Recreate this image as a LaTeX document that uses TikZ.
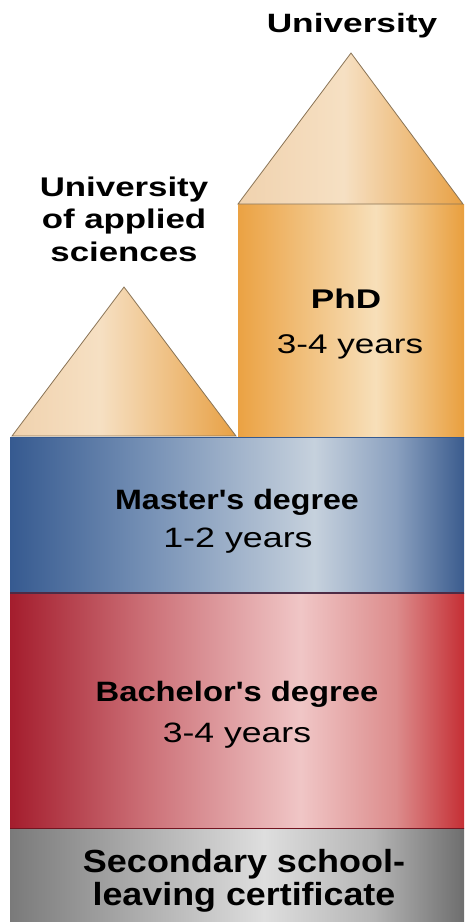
\documentclass[tikz,border=0pt]{standalone}
\usepackage{fontspec}
\setmainfont{Liberation Sans}[Ligatures=TeXOff]
\definecolor{bl1}{HTML}{365A90}
\definecolor{bl2}{HTML}{7590B5}
\definecolor{bl3}{HTML}{C6D1DD}
\definecolor{bl4}{HTML}{8AA0BF}
\definecolor{bl5}{HTML}{3B5C8E}
\definecolor{rd1}{HTML}{A41D2D}
\definecolor{rd2}{HTML}{CC7077}
\definecolor{rd3}{HTML}{F0C6C6}
\definecolor{rd4}{HTML}{DC8C8C}
\definecolor{rd5}{HTML}{C52F35}
\definecolor{gr1}{HTML}{7A7A7A}
\definecolor{gr2}{HTML}{B0B0B0}
\definecolor{gr3}{HTML}{DEDEDE}
\definecolor{gr4}{HTML}{B5B5B5}
\definecolor{gr5}{HTML}{6E6E6E}
\definecolor{or1}{HTML}{EBA243}
\definecolor{or2}{HTML}{F7DFB9}
\definecolor{or3}{HTML}{E99F3E}
\definecolor{tl1}{HTML}{F0D2AE}
\definecolor{tl2}{HTML}{F6E0C3}
\definecolor{tl3}{HTML}{E8A145}
\definecolor{triline}{HTML}{8A7456}
\pgfdeclarehorizontalshading{blueband}{100bp}{color(0bp)=(bl1); color(25bp)=(bl1); color(40bp)=(bl2); color(58.5bp)=(bl3); color(67.5bp)=(bl4); color(75bp)=(bl5); color(100bp)=(bl5)}
\pgfdeclarehorizontalshading{redband}{100bp}{color(0bp)=(rd1); color(25bp)=(rd1); color(40bp)=(rd2); color(57bp)=(rd3); color(67.5bp)=(rd4); color(75bp)=(rd5); color(100bp)=(rd5)}
\pgfdeclarehorizontalshading{grayband}{100bp}{color(0bp)=(gr1); color(25bp)=(gr1); color(40bp)=(gr2); color(53bp)=(gr3); color(65bp)=(gr4); color(75bp)=(gr5); color(100bp)=(gr5)}
\pgfdeclarehorizontalshading{phdbox}{100bp}{color(0bp)=(or1); color(25bp)=(or1); color(55.5bp)=(or2); color(75bp)=(or3); color(100bp)=(or3)}
\pgfdeclarehorizontalshading{bigtri}{100bp}{color(0bp)=(tl1); color(25bp)=(tl1); color(48.5bp)=(tl2); color(75bp)=(tl3); color(100bp)=(tl3)}
\pgfdeclarehorizontalshading{smalltri}{100bp}{color(0bp)=(tl1); color(25bp)=(tl1); color(44.5bp)=(tl2); color(75bp)=(tl3); color(100bp)=(tl3)}
\tikzset{
  lbl/.style={anchor=base, inner sep=0pt, text=black, transform shape},
  boldlabel/.style={lbl, font=\bfseries\fontsize{#1}{#1}\selectfont},
  reglabel/.style={lbl, font=\fontsize{#1}{#1}\selectfont},
  tri/.style={draw=triline, line width=0.8pt},
}
\begin{document}
\begin{tikzpicture}[x=1pt,y=-1pt]
\useasboundingbox (0,0) rectangle (464,922);
\fill[white] (0,0) rectangle (464,922);
% bands
\shade[shading=grayband] (10,828) rectangle (464,922);
\shade[shading=redband] (10,593) rectangle (464,828);
\shade[shading=blueband] (10,437) rectangle (464,593);
\draw[draw=rd1!70!black, line width=1pt] (10,828) -- (464,828);
\draw[draw=bl1!60!black!80!red, line width=1.2pt] (10,593) -- (464,593);
% PhD box
\shade[shading=phdbox] (238,204) rectangle (464,437);
\draw[draw=or3!80!black, line width=0.8pt] (238,437) -- (464,437);
% triangles
\shade[shading=bigtri, tri] (238,204) -- (351,53) -- (463,204) -- cycle;
\shade[shading=smalltri, tri] (12,436) -- (124,287) -- (236,436) -- cycle;
\draw[draw=bl1, line width=1pt] (10,437.5) -- (464,437.5);
% labels
\node[boldlabel=26.5, xscale=1.33] (uni) at (352,32) {University};
\node[boldlabel=27, xscale=1.29] (uas1) at (124,196) {University};
\node[boldlabel=27, xscale=1.29] (uas2) at (124,228.5) {of applied};
\node[boldlabel=27, xscale=1.29] (uas3) at (124,261) {sciences};
\node[boldlabel=27, xscale=1.3] (phd) at (346,308) {PhD};
\node[reglabel=27, xscale=1.3] (phdy) at (350,353) {3-4 years};
\node[boldlabel=28, xscale=1.15] (ma) at (237,509) {Master's degree};
\node[reglabel=28, xscale=1.28] (may) at (238,547) {1-2 years};
\node[boldlabel=28, xscale=1.17] (ba) at (237,701) {Bachelor's degree};
\node[reglabel=28, xscale=1.27] (bay) at (237,742) {3-4 years};
\node[boldlabel=32, xscale=1.125] (sec1) at (244,872) {Secondary school-};
\node[boldlabel=32, xscale=1.12] (sec2) at (244,905) {leaving certificate};
\end{tikzpicture}
\end{document}
